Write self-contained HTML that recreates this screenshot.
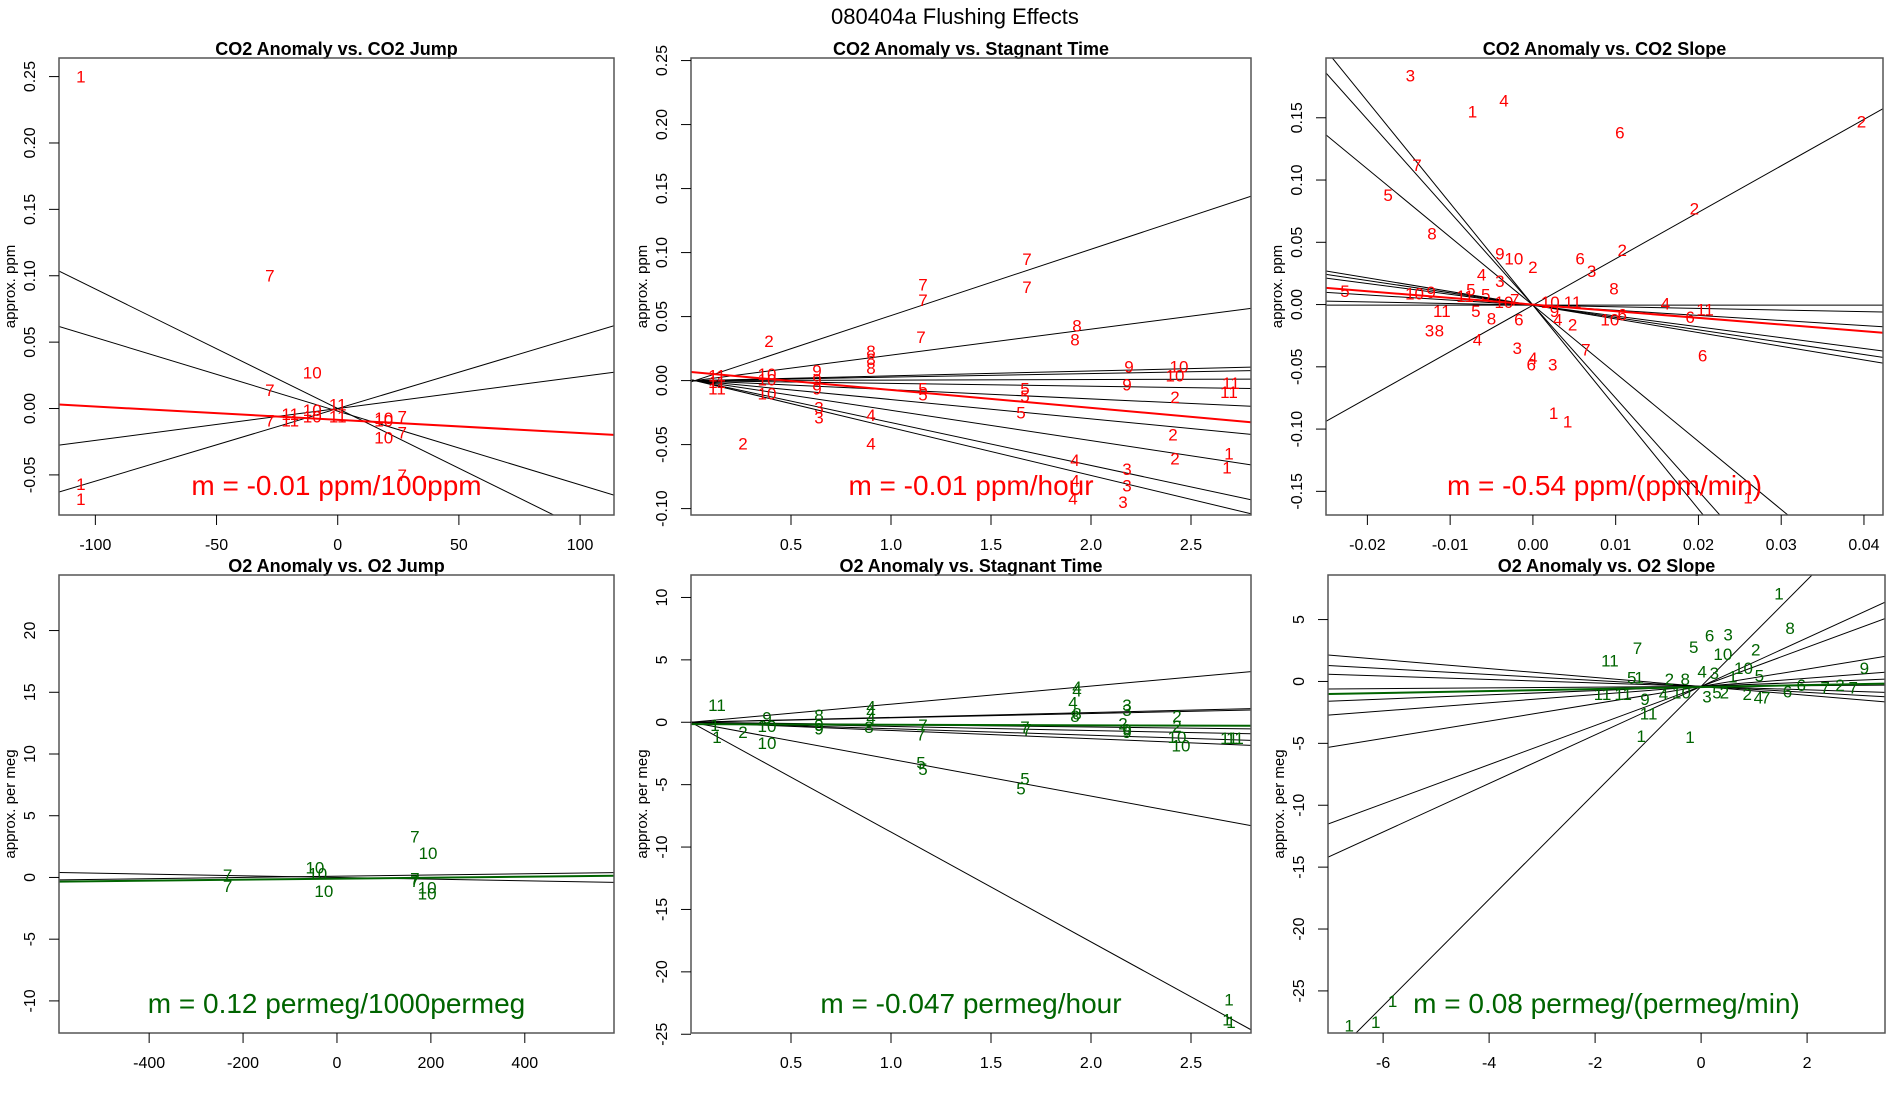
<!DOCTYPE html>
<html><head><meta charset="utf-8"><style>
html,body{margin:0;padding:0;background:#fff;}
svg{display:block;font-family:"Liberation Sans",sans-serif;}
</style></head><body>
<svg id="chart" width="1900" height="1100" viewBox="0 0 1900 1100" xmlns="http://www.w3.org/2000/svg">
<rect width="1900" height="1100" fill="#fff"/>
<text x="955" y="24" text-anchor="middle" font-size="22">080404a    Flushing Effects</text>
</svg>
<script>
// Panel 1: CO2 Anomaly vs CO2 Jump
const p1X=[-106,-28,-10.5,-28,-28,-19.6,-19.6,-10.5,-10.5,0,0,19,19,26.6,19,26.6,26.6,-106,-106];
const p1Y=[0.25,0.10,0.027,0.014,-0.009,-0.004,-0.009,-0.001,-0.006,0.003,-0.006,-0.007,-0.009,-0.006,-0.022,-0.018,-0.05,-0.057,-0.068];
const p1Lab=["1","7","10","7","7","11","11","10","10","11","11","10","10","7","10","7","7","1","1"];
const p1Slopes=[-0.0009,-0.000555,0.00024,0.000547];
const p1Ints=[0,-0.002,0,0];
const p1Fit=[-0.0085,-0.0001];
// Panel 2: CO2 Anomaly vs Stagnant Time
const p2X=[1.68,1.16,1.16,1.68,1.15,0.39,1.93,1.92,0.9,0.9,0.9,0.63,0.63,0.63,0.38,0.38,0.38,0.13,0.13,0.13,0.64,0.64,0.9,0.9,0.26,1.16,1.16,1.67,1.67,1.65,2.19,2.18,2.44,2.42,2.7,2.69,2.42,2.41,2.42,1.92,1.92,1.91,2.18,2.18,2.16,2.69,2.68];
const p2Y=[0.095,0.075,0.063,0.073,0.034,0.031,0.043,0.032,0.023,0.017,0.010,0.008,0.001,-0.006,0.005,0.001,-0.010,0.004,-0.001,-0.006,-0.021,-0.029,-0.027,-0.049,-0.049,-0.006,-0.011,-0.006,-0.012,-0.025,0.011,-0.003,0.011,0.004,-0.002,-0.009,-0.013,-0.042,-0.061,-0.062,-0.078,-0.092,-0.069,-0.082,-0.095,-0.057,-0.068];
const p2Lab=["7","7","7","7","7","2","8","8","8","8","8","9","9","9","10","10","10","11","11","11","3","3","4","4","2","5","5","5","5","5","9","9","10","10","11","11","2","2","2","4","4","4","3","3","3","1","1"];
const p2Slopes=[0.0518,0.0203,0.0038,0.0028,0.0004,-0.0022,-0.0072,-0.0151,-0.0237,-0.0335,-0.0374];
const p2Ints=[-0.001,-0.0004,-0.0001,-0.0001,0,0,0.0001,0.0003,0.0005,0.0007,0.0007];
const p2Fit=[0.0067,-0.014];
// Panel 3: CO2 Anomaly vs CO2 Slope
const p3X=[-0.0148,-0.0073,-0.0035,0.0105,0.0397,-0.014,-0.0175,-0.0122,0.0195,0.0108,-0.004,-0.0023,0,0.0057,0.0071,-0.0062,-0.004,0.0098,-0.0227,-0.0143,-0.0123,-0.0075,-0.0082,-0.0057,-0.011,-0.0069,-0.005,-0.0035,-0.0022,0.0021,0.0048,0.0026,0.003,0.0048,-0.0017,0.0093,0.0108,0.016,0.0208,0.019,-0.0125,-0.0113,-0.0067,-0.0019,0,-0.0002,0.0024,0.0064,0.0205,0.0025,0.0042,0.026];
const p3Y=[0.184,0.155,0.164,0.138,0.147,0.112,0.088,0.057,0.077,0.044,0.041,0.037,0.030,0.037,0.027,0.024,0.019,0.013,0.011,0.009,0.010,0.012,0.007,0.008,-0.005,-0.005,-0.011,0.002,0.004,0.002,0.002,-0.005,-0.012,-0.016,-0.012,-0.012,-0.008,0.001,-0.004,-0.010,-0.021,-0.021,-0.028,-0.035,-0.043,-0.048,-0.048,-0.036,-0.041,-0.087,-0.094,-0.155];
const p3Lab=["3","1","4","6","2","7","5","8","2","2","9","10","2","6","3","4","3","8","5","10","9","5","11","5","11","5","8","10","7","10","11","9","4","2","6","10","6","4","11","6","3","8","4","3","4","6","3","7","6","1","1","1"];
const p3Slopes=[-8.19,-7.46,-5.47,3.73,-1.1,-0.99,-0.87,-0.41,-0.13,0];
const p3Ints=[-0.0005,-0.0005,-0.0005,-0.0005,-0.0005,-0.0005,-0.0005,-0.0005,-0.0005,-0.0005];
const p3Fit=[0,-0.535];
// Panel 4: O2 Anomaly vs O2 Jump
const p4X=[-233,-233,-47,-41,-28,166,194,166,166,192,192];
const p4Y=[0.2,-0.7,0.8,0.3,-1.1,3.3,2.0,-0.1,-0.3,-0.8,-1.3];
const p4Lab=["7","7","10","10","10","7","10","7","7","10","10"];
const p4Slopes=[-0.00067,0.0005];
const p4Ints=[0,0.1];
const p4Fit=[-0.1,0.0004];
// Panel 5: O2 Anomaly vs Stagnant Time
const p5X=[0.13,0.12,0.13,0.26,0.38,0.38,0.38,0.64,0.64,0.64,0.90,0.90,0.90,0.89,1.16,1.15,1.15,1.16,1.67,1.68,1.67,1.65,1.93,1.93,1.91,1.93,1.92,2.18,2.18,2.16,2.18,2.18,2.43,2.43,2.43,2.45,2.69,2.72,2.69,2.68,2.70];
const p5Y=[1.37,-0.2,-1.18,-0.78,0.39,-0.29,-1.67,0.59,-0.2,-0.49,1.27,0.88,0.39,-0.39,-0.2,-0.98,-3.24,-3.73,-0.39,-0.59,-4.5,-5.3,2.84,2.55,1.57,0.69,0.49,1.37,0.98,-0.1,-0.59,-0.78,0.49,-0.29,-1.18,-1.86,-1.27,-1.27,-22.2,-23.8,-24.0];
const p5Lab=["11","1","1","2","9","10","10","8","9","9","4","4","4","8","7","7","5","5","7","7","5","5","4","4","4","8","8","3","3","2","9","9","2","2","10","10","11","11","1","1","1"];
const p5Slopes=[1.45,0.39,0.35,-0.19,-0.33,-0.52,-0.66,-2.96,-8.8];
const p5Ints=[0,0,0,0,0,0,0,0,0];
const p5Fit=[-0.15,-0.047];
// Panel 6: O2 Anomaly vs O2 Slope
const p6X=[-6.64,-6.14,-5.82,1.47,1.68,-1.20,-1.72,-0.14,0.16,0.51,0.41,1.03,3.08,-0.21,-1.13,-0.99,-1.06,-1.86,-1.47,-1.31,-1.17,-0.60,-0.30,-0.71,-0.37,0.02,0.25,0.60,0.80,1.10,1.63,1.89,2.34,2.62,2.87,0.11,0.30,0.44,0.87,1.08,1.22];
const p6Y=[-27.8,-27.5,-25.8,7.1,4.3,2.7,1.7,2.8,3.7,3.8,2.2,2.6,1.1,-4.5,-4.4,-2.6,-1.4,-1.0,-1.0,0.3,0.3,0.2,0.2,-1.0,-0.9,0.8,0.7,0.4,1.1,0.5,-0.8,-0.3,-0.5,-0.3,-0.5,-1.2,-0.9,-0.9,-1.0,-1.3,-1.3];
const p6Lab=["1","1","1","1","8","7","11","5","6","3","10","2","9","1","1","11","9","11","11","5","1","2","8","4","10","4","3","1","10","5","6","6","7","2","7","3","5","2","2","4","7"];
const p6Slopes=[4.3,1.96,1.58,0.70,0.33,0.17,0.03,-0.14,-0.24,-0.36];
const p6Ints=[-0.4,-0.4,-0.4,-0.4,-0.4,-0.4,-0.4,-0.4,-0.4,-0.4];
const p6Fit=[-0.45,0.08];
// tick labels
const p1XTicks=["-100","-50","0","50","100"];
const p1YTicks=["-0.05","0.00","0.05","0.10","0.15","0.20","0.25"];
const p2XTicks=["0.5","1.0","1.5","2.0","2.5"];
const p2YTicks=["-0.10","-0.05","0.00","0.05","0.10","0.15","0.20","0.25"];
const p3XTicks=["-0.02","-0.01","0.00","0.01","0.02","0.03","0.04"];
const p3YTicks=["-0.15","-0.10","-0.05","0.00","0.05","0.10","0.15"];
const p4XTicks=["-400","-200","0","200","400"];
const p4YTicks=["-10","-5","0","5","10","15","20"];
const p5XTicks=["0.5","1.0","1.5","2.0","2.5"];
const p5YTicks=["-25","-20","-15","-10","-5","0","5","10"];
const p6XTicks=["-6","-4","-2","0","2"];
const p6YTicks=["-25","-20","-15","-10","-5","0","5"];

const NS="http://www.w3.org/2000/svg";
const svg=document.getElementById('chart');
function mk(tag,attrs,parent){const e=document.createElementNS(NS,tag);for(const k in attrs)e.setAttribute(k,attrs[k]);(parent||svg).appendChild(e);return e;}

const panels=[
 {id:'co2-jump',title:'CO2 Anomaly vs. CO2 Jump',box:[59,58,614,515],xd:[-115,114],yd:[-0.0802,0.264],X:p1X,Y:p1Y,L:p1Lab,S:p1Slopes,I:p1Ints,F:p1Fit,xt:p1XTicks,yt:p1YTicks,col:'#ff0000',ylab:'approx. ppm',m:'m = -0.01 ppm/100ppm'},
 {id:'co2-stagnant',title:'CO2 Anomaly vs. Stagnant Time',box:[691,58,1251,515],xd:[0,2.8],yd:[-0.105,0.252],X:p2X,Y:p2Y,L:p2Lab,S:p2Slopes,I:p2Ints,F:p2Fit,xt:p2XTicks,yt:p2YTicks,col:'#ff0000',ylab:'approx. ppm',m:'m = -0.01 ppm/hour'},
 {id:'co2-slope',title:'CO2 Anomaly vs. CO2 Slope',box:[1326,58,1883,515],xd:[-0.0250,0.0423],yd:[-0.169,0.198],X:p3X,Y:p3Y,L:p3Lab,S:p3Slopes,I:p3Ints,F:p3Fit,xt:p3XTicks,yt:p3YTicks,col:'#ff0000',ylab:'approx. ppm',m:'m = -0.54 ppm/(ppm/min)'},
 {id:'o2-jump',title:'O2 Anomaly vs. O2 Jump',box:[59,575,614,1033],xd:[-592,590],yd:[-12.6,24.5],X:p4X,Y:p4Y,L:p4Lab,S:p4Slopes,I:p4Ints,F:p4Fit,xt:p4XTicks,yt:p4YTicks,col:'#006400',ylab:'approx. per meg',m:'m = 0.12 permeg/1000permeg'},
 {id:'o2-stagnant',title:'O2 Anomaly vs. Stagnant Time',box:[691,575,1251,1033],xd:[0,2.8],yd:[-24.9,11.8],X:p5X,Y:p5Y,L:p5Lab,S:p5Slopes,I:p5Ints,F:p5Fit,xt:p5XTicks,yt:p5YTicks,col:'#006400',ylab:'approx. per meg',m:'m = -0.047 permeg/hour'},
 {id:'o2-slope',title:'O2 Anomaly vs. O2 Slope',box:[1328,575,1885,1033],xd:[-7.04,3.47],yd:[-28.4,8.6],X:p6X,Y:p6Y,L:p6Lab,S:p6Slopes,I:p6Ints,F:p6Fit,xt:p6XTicks,yt:p6YTicks,col:'#006400',ylab:'approx. per meg',m:'m = 0.08 permeg/(permeg/min)'}
];

panels.forEach((p,pi)=>{
 const [x0,y0,x1,y1]=p.box;
 const sx=v=>x0+(v-p.xd[0])/(p.xd[1]-p.xd[0])*(x1-x0);
 const sy=v=>y1-(v-p.yd[0])/(p.yd[1]-p.yd[0])*(y1-y0);
 const g=mk('g',{});
 
 
 const cp=mk('clipPath',{id:'clip'+pi},g);
 mk('rect',{x:x0,y:y0,width:x1-x0,height:y1-y0},cp);
 const t=mk('text',{x:(x0+x1)/2,y:y0-3,'text-anchor':'middle','font-size':'18','font-weight':'bold'},g);
 t.textContent=p.title;
 
 
 const lg=mk('g',{'clip-path':'url(#clip'+pi+')'},g);
 p.S.forEach((s,i)=>{
  const a=p.xd[0],b=p.xd[1];
  const ln=mk('line',{x1:sx(a),y1:sy(p.I[i]+s*a),x2:sx(b),y2:sy(p.I[i]+s*b),stroke:'#000','stroke-width':'1'},lg);
  
  
 });
 {const a=p.xd[0],b=p.xd[1];
  const fl=mk('line',{x1:sx(a),y1:sy(p.F[0]+p.F[1]*a),x2:sx(b),y2:sy(p.F[0]+p.F[1]*b),stroke:p.col,'stroke-width':'2'},lg);
  
  }
 p.X.forEach((xv,i)=>{
  const tx=mk('text',{x:sx(xv),y:sy(p.Y[i])+6,'text-anchor':'middle','font-size':'17',fill:p.col},lg);
  tx.textContent=p.L[i];
  
  
 });
 const mt=mk('text',{x:(x0+x1)/2,y:y1-20,'text-anchor':'middle','font-size':'28',fill:p.col},g);
 mt.textContent=p.m;
 
 
 const bx=mk('rect',{x:x0,y:y0,width:x1-x0,height:y1-y0,fill:'none',stroke:'#555','stroke-width':'1.5'},g);
 
 
 p.xt.forEach(lab=>{
  const v=parseFloat(lab),X=sx(v);
  const tk=mk('line',{x1:X,y1:y1,x2:X,y2:y1+10,stroke:'#000'},g);
  
  
  const tl=mk('text',{x:X,y:y1+35,'text-anchor':'middle','font-size':'16'},g);
  tl.textContent=lab;
  
  
 });
 p.yt.forEach(lab=>{
  const v=parseFloat(lab),Y=sy(v);
  const tk=mk('line',{x1:x0-10,y1:Y,x2:x0,y2:Y,stroke:'#000'},g);
  
  
  const tl=mk('text',{x:x0-24,y:Y,'text-anchor':'middle','font-size':'16',transform:'rotate(-90 '+(x0-24)+' '+Y+')'},g);
  tl.textContent=lab;
  
  
 });
 const cy=(y0+y1)/2,ax=x0-44;
 const yl=mk('text',{x:ax,y:cy,'text-anchor':'middle','font-size':'15',transform:'rotate(-90 '+ax+' '+cy+')'},g);
 yl.textContent=p.ylab;
 
 
});
</script>
</body></html>
